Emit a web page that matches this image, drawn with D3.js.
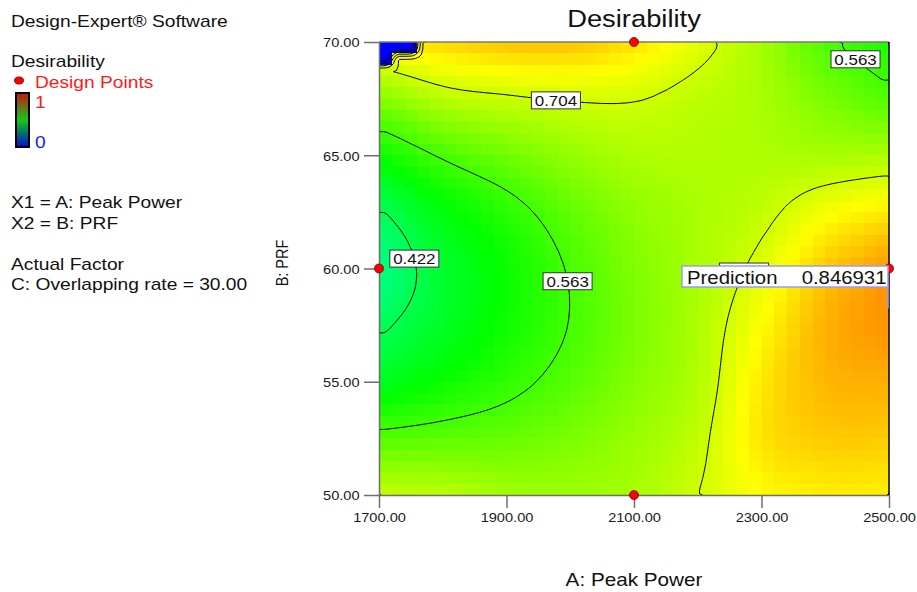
<!DOCTYPE html>
<html>
<head>
<meta charset="utf-8">
<script src="https://cdn.jsdelivr.net/npm/d3@7"></script>
<style>
  body { margin: 0; background: #fff; }
  svg text { font-family: "Liberation Sans", Arial, sans-serif; }
</style>
</head>
<body>
<svg id="chart" width="917" height="592"></svg>
<script>
// values
var peakPower = [1700, 1800, 1900, 2000, 2100, 2200, 2300, 2400, 2500];
var prf = [50, 52.5, 55, 57.5, 60, 62.5, 65, 67.5, 70];
// one row per PRF value (50 -> 70), one column per peak power value
var desirability = [
  [0.695, 0.685, 0.66, 0.655, 0.665, 0.704, 0.75, 0.765, 0.765],
  [0.58, 0.59, 0.60, 0.62, 0.65, 0.69, 0.775, 0.80, 0.80],
  [0.47, 0.51, 0.545, 0.585, 0.63, 0.675, 0.77, 0.82, 0.83],
  [0.41, 0.465, 0.515, 0.565, 0.62, 0.67, 0.75, 0.825, 0.855],
  [0.37, 0.455, 0.51, 0.568, 0.625, 0.665, 0.72, 0.80, 0.847],
  [0.415, 0.49, 0.54, 0.595, 0.64, 0.665, 0.69, 0.74, 0.77],
  [0.51, 0.57, 0.61, 0.645, 0.67, 0.675, 0.67, 0.665, 0.668],
  [0.63, 0.68, 0.697, 0.708, 0.707, 0.685, 0.665, 0.62, 0.58],
  [0.77, 0.79, 0.81, 0.81, 0.78, 0.725, 0.66, 0.575, 0.52]
];
// cells of the 40x40 grid where desirability is 0 ([col,row] from top-left)
var zeroCells = [[0, 0], [1, 0], [2, 0], [0, 1]];
var contourLevels = [0.141, 0.282, 0.422, 0.563, 0.704];
// covered: the label sits under the prediction flag, only its box edge shows
var contourLabels = [
  {level: 0.704, a: 1978, b: 67.7},
  {level: 0.563, a: 2451, b: 69.4},
  {level: 0.422, a: 1750, b: 60.4},
  {level: 0.563, a: 1995, b: 59.4},
  {level: 0.704, a: 2271, b: 59.9, covered: true}
];
var designPoints = [[1700, 60], [2100, 70], [2100, 50], [2500, 60]];
var xTicks = [1700, 1900, 2100, 2300, 2500];
var yTicks = [50, 55, 60, 65, 70];
var prediction = {a: 2500, b: 60, value: "0.846931"};
var infoLines = ["X1 = A: Peak Power", "X2 = B: PRF", "", "Actual Factor", "C: Overlapping rate = 30.00"];

function draw() {
  var nCells = 40, fine = 4;

  var svg = d3.select("#chart");

  var x = d3.scaleLinear().domain([1700, 2500]).range([379, 889]);
  var y = d3.scaleLinear().domain([50, 70]).range([495, 42]);

  var color = d3.scaleLinear()
    .domain([0, 0.25, 0.5, 0.75, 1])
    .range(["#0000ff", "#00ffff", "#00ff00", "#ffff00", "#ff0000"]);

  function txt(g, px, py, str, size, sx, anchor, fill) {
    return g.append("text")
      .attr("transform", "translate(" + px + "," + py + ") scale(" + sx + ",1)")
      .attr("font-size", size)
      .attr("text-anchor", anchor || "start")
      .attr("fill", fill || "#000")
      .text(str);
  }

  // surface between the read values (Catmull-Rom)
  function cubic(p0, p1, p2, p3, t) {
    return p1 + 0.5 * t * (p2 - p0 + t * (2 * p0 - 5 * p1 + 4 * p2 - p3 + t * (3 * (p1 - p2) + p3 - p0)));
  }
  function at(r, c) {
    var nr = prf.length, nc = peakPower.length;
    if (r < 0) return 2 * at(0, c) - at(1, c);
    if (r >= nr) return 2 * at(nr - 1, c) - at(nr - 2, c);
    if (c < 0) return 2 * at(r, 0) - at(r, 1);
    if (c >= nc) return 2 * at(r, nc - 1) - at(r, nc - 2);
    return desirability[r][c];
  }
  function surface(a, b) {
    var u = (a - peakPower[0]) / (peakPower[1] - peakPower[0]);
    var v = (b - prf[0]) / (prf[1] - prf[0]);
    var c = Math.min(Math.floor(u), peakPower.length - 2), r = Math.min(Math.floor(v), prf.length - 2);
    var tu = u - c, tv = v - r;
    var rows = [-1, 0, 1, 2].map(function(dr) {
      return cubic(at(r + dr, c - 1), at(r + dr, c), at(r + dr, c + 1), at(r + dr, c + 2), tu);
    });
    return cubic(rows[0], rows[1], rows[2], rows[3], tv);
  }

  var da = (x.domain()[1] - x.domain()[0]) / nCells;
  var db = (y.domain()[1] - y.domain()[0]) / nCells;
  var isZero = {};
  zeroCells.forEach(function(d) { isZero[d[0] + "," + d[1]] = true; });

  var cells = [];
  for (var j = 0; j < nCells; j++) {
    for (var i = 0; i < nCells; i++) {
      var a0 = x.domain()[0] + i * da, b0 = y.domain()[1] - j * db;
      cells.push({i: i, j: j, a: a0, b: b0,
        v: isZero[i + "," + j] ? 0 : surface(a0 + da / 2, b0 - db / 2)});
    }
  }

  var defs = svg.append("defs");
  defs.append("clipPath").attr("id", "plotclip")
    .append("rect").attr("x", x(1700)).attr("y", y(70))
    .attr("width", x(2500) - x(1700)).attr("height", y(50) - y(70));

  var plot = svg.append("g").attr("clip-path", "url(#plotclip)");

  plot.selectAll(".cell").data(cells).enter().append("rect")
    .attr("class", "cell")
    .attr("x", function(d) { return x(d.a); })
    .attr("y", function(d) { return y(d.b); })
    .attr("width", function(d) { return x(d.a + da) - x(d.a) + 0.6; })
    .attr("height", function(d) { return y(d.b - db) - y(d.b) + 0.6; })
    .attr("shape-rendering", "crispEdges")
    .attr("fill", function(d) { return color(d.v); });

  // contours on a finer grid sampled from the cells
  var N = nCells * fine;
  function cellVal(ci, cj) {
    ci = Math.max(0, Math.min(nCells - 1, ci));
    cj = Math.max(0, Math.min(nCells - 1, cj));
    return cells[cj * nCells + ci].v;
  }
  var values = new Array(N * N);
  for (var l = 0; l < N; l++) {
    for (var k = 0; k < N; k++) {
      var gi = (k + 0.5) / fine - 0.5, gj = (l + 0.5) / fine - 0.5;
      var i0 = Math.floor(gi), j0 = Math.floor(gj), ti = gi - i0, tj = gj - j0;
      var upper = cellVal(i0, j0) * (1 - ti) + cellVal(i0 + 1, j0) * ti;
      var lower = cellVal(i0, j0 + 1) * (1 - ti) + cellVal(i0 + 1, j0 + 1) * ti;
      values[l * N + k] = upper * (1 - tj) + lower * tj;
    }
  }
  var contours = d3.contours().size([N, N]).thresholds(contourLevels)(values);

  function toPx(p) {
    return [x(x.domain()[0] + p[0] / N * (x.domain()[1] - x.domain()[0])),
            y(y.domain()[1] - p[1] / N * (y.domain()[1] - y.domain()[0]))];
  }
  function onEdge(p, q) {
    return (p[0] === 0 && q[0] === 0) || (p[0] === N && q[0] === N) ||
           (p[1] === 0 && q[1] === 0) || (p[1] === N && q[1] === N);
  }

  var linePoints = {};
  contours.forEach(function(c) {
    var dstr = "", pts = [];
    c.coordinates.forEach(function(poly) {
      poly.forEach(function(ring) {
        var down = false;
        for (var n = 1; n < ring.length; n++) {
          var p = ring[n - 1], q = ring[n];
          if (onEdge(p, q)) { down = false; continue; }
          var pp = toPx(p), qq = toPx(q);
          if (!down) { dstr += "M" + pp[0].toFixed(2) + "," + pp[1].toFixed(2); down = true; pts.push(pp); }
          dstr += "L" + qq[0].toFixed(2) + "," + qq[1].toFixed(2);
          pts.push(qq);
        }
      });
    });
    linePoints[c.value] = pts;
    if (dstr) {
      plot.append("path").attr("d", dstr)
        .attr("fill", "none").attr("stroke", "#000").attr("stroke-width", 1);
    }
  });

  // contour labels snapped to the nearest point of their line
  var labG = svg.append("g");
  contourLabels.forEach(function(d) {
    var tx = x(d.a), ty = y(d.b), best = [tx, ty], bd = Infinity;
    (linePoints[d.level] || []).forEach(function(p) {
      var dd = (p[0] - tx) * (p[0] - tx) + (p[1] - ty) * (p[1] - ty);
      if (dd < bd) { bd = dd; best = p; }
    });
    var w = 49, h = 17;
    labG.append("rect").attr("x", best[0] - w / 2).attr("y", best[1] - h / 2)
      .attr("width", w).attr("height", h)
      .attr("fill", "#fff").attr("stroke", "#333").attr("stroke-width", 1);
    if (!d.covered) txt(labG, best[0], best[1] + 5.5, d3.format(".3f")(d.level), 15, 1.13, "middle", "#111");
  });

  // axes
  var axG = svg.append("g");
  var xAxis = axG.append("g").attr("transform", "translate(0," + y(50) + ")")
    .call(d3.axisBottom(x).tickValues(xTicks).tickFormat(d3.format(".2f")).tickSize(13).tickSizeOuter(0).tickPadding(4));
  var yAxis = axG.append("g").attr("transform", "translate(" + x(1700) + ",0)")
    .call(d3.axisLeft(y).tickValues(yTicks).tickFormat(d3.format(".2f")).tickSize(15).tickSizeOuter(0).tickPadding(3));
  [xAxis, yAxis].forEach(function(g) {
    g.selectAll("path, line").attr("stroke", "#6e6e6e").attr("stroke-width", 1.5);
    g.selectAll("text").attr("font-size", 13.5).attr("fill", "#1a1a1a")
      .attr("font-family", "'Liberation Sans', Arial, sans-serif")
      .attr("transform", "scale(1.08,1)");
  });
  yAxis.selectAll("text").attr("dy", "0.36em");
  axG.append("line").attr("x1", x(1700)).attr("x2", x(2500)).attr("y1", y(70)).attr("y2", y(70))
    .attr("stroke", "#7a7a7a").attr("stroke-width", 1.5);
  axG.append("line").attr("x1", x(2500)).attr("x2", x(2500)).attr("y1", y(70)).attr("y2", y(50))
    .attr("stroke", "#000").attr("stroke-width", 1.5);

  // design points
  svg.append("g").selectAll("circle").data(designPoints).enter().append("circle")
    .attr("cx", function(d) { return x(d[0]); })
    .attr("cy", function(d) { return y(d[1]); })
    .attr("r", 4.5)
    .attr("fill", "#ff0000").attr("stroke", "#700").attr("stroke-width", 0.8);

  // prediction flag
  var pg = svg.append("g");
  var fx = x(prediction.a), fy = y(prediction.b);
  pg.append("line").attr("x1", fx - 1).attr("x2", fx - 1).attr("y1", fy + 18).attr("y2", fy + 40)
    .attr("stroke", "#9999ff").attr("stroke-width", 1.5);
  pg.append("rect").attr("x", fx - 207).attr("y", fy - 2.5).attr("width", 206).attr("height", 21)
    .attr("fill", "#fff").attr("stroke", "#9999ff").attr("stroke-width", 1.5);
  txt(pg, fx - 202, fy + 15.5, "Prediction", 18.5, 1.1, "start", "#111");
  txt(pg, fx - 2.5, fy + 15.5, prediction.value, 18.5, 1.1, "end", "#111");

  // titles
  txt(svg, 634, 27, "Desirability", 24, 1.14, "middle", "#111");
  txt(svg, 634, 586, "A: Peak Power", 18, 1.15, "middle", "#111");
  svg.append("text")
    .attr("transform", "translate(288,263) scale(1.14,1) rotate(-90)")
    .attr("font-size", 14.5).attr("text-anchor", "middle").attr("fill", "#111")
    .text("B: PRF");

  // left panel
  var side = svg.append("g");
  txt(side, 11, 27, "Design-Expert\u00ae Software", 16, 1.2, "start", "#111");
  txt(side, 11, 67, "Desirability", 16, 1.2, "start", "#111");
  side.append("ellipse").attr("cx", 19).attr("cy", 80.5).attr("rx", 4.5).attr("ry", 3.6)
    .attr("fill", "#ff0000").attr("stroke", "#600").attr("stroke-width", 0.8);
  txt(side, 35, 88, "Design Points", 16, 1.2, "start", "#ff1a1a");

  var grad = defs.append("linearGradient").attr("id", "cbar")
    .attr("x1", 0).attr("x2", 0).attr("y1", 0).attr("y2", 1);
  [["0%", "#c8140a"], ["25%", "#6e6e14"], ["50%", "#14c814"], ["75%", "#006e78"], ["100%", "#0a0ad2"]]
    .forEach(function(s) { grad.append("stop").attr("offset", s[0]).attr("stop-color", s[1]); });
  side.append("rect").attr("x", 16).attr("y", 93).attr("width", 13).attr("height", 54)
    .attr("fill", "url(#cbar)").attr("stroke", "#000").attr("stroke-width", 2);
  txt(side, 35, 108, "1", 16, 1.2, "start", "#ff1a1a");
  txt(side, 35, 148, "0", 16, 1.2, "start", "#2020ff");

  infoLines.forEach(function(s, n) {
    if (s) txt(side, 11, 208 + n * 20.5, s, 16, 1.2, "start", "#111");
  });
}

draw();
</script>
</body>
</html>
